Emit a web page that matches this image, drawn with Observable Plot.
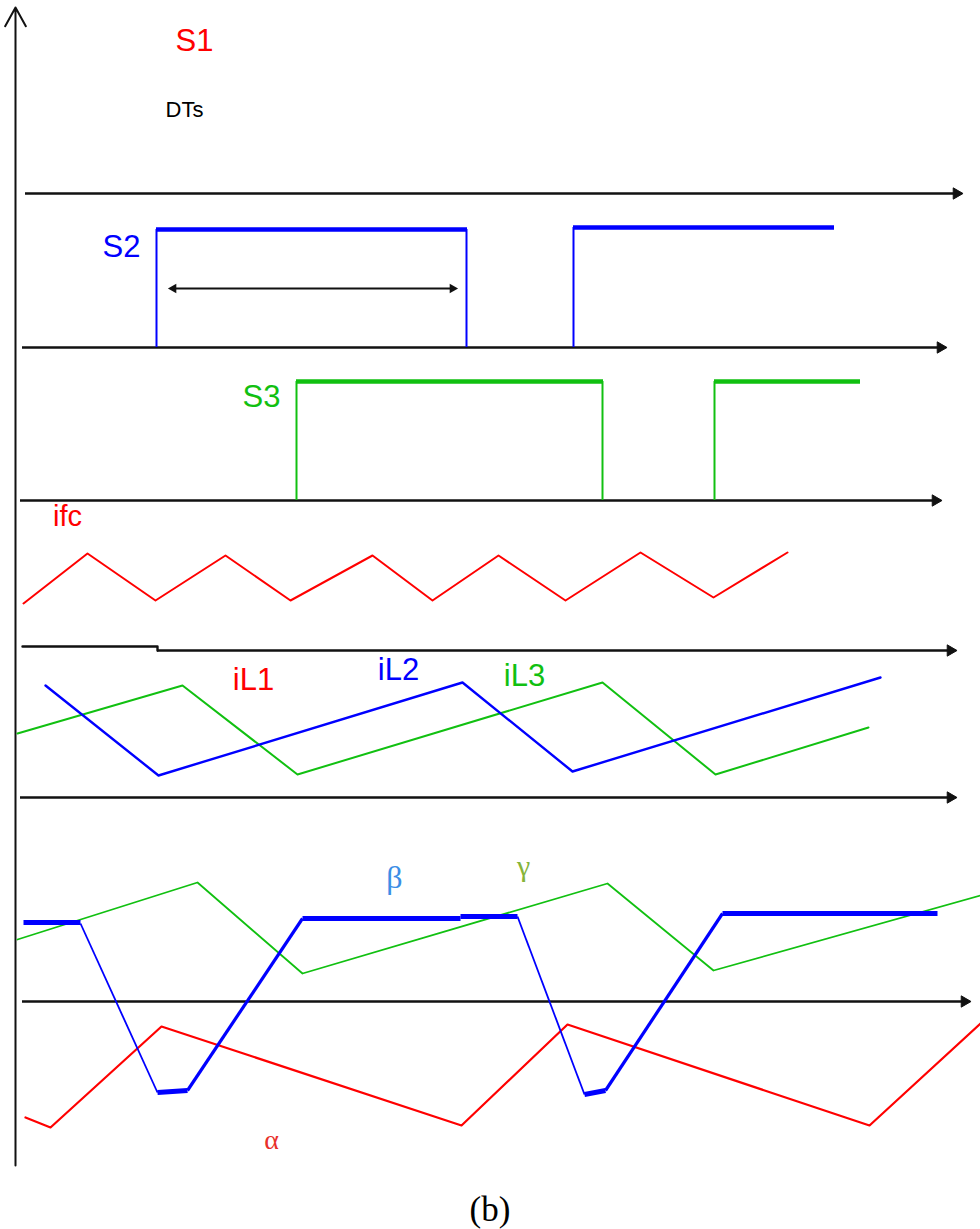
<!DOCTYPE html>
<html><head><meta charset="utf-8">
<script src="https://cdn.jsdelivr.net/npm/d3@7"></script>
<script src="https://cdn.jsdelivr.net/npm/@observablehq/plot@0.6"></script>
<style>
body{margin:0;background:#fff}
#cap{font-family:"Liberation Serif","Times New Roman",serif;font-size:35px;text-align:center;width:980px;height:44px;line-height:50px;color:#000;overflow:visible}
</style>
</head><body>
<div id="chart"></div>
<div id="cap">(b)</div>
<script>
// ---- data (time on x, level on y) ----
const timeAxes = [
  {x1: 25, x2: 962, y: 193},
  {x1: 22, x2: 946, y: 347},
  {x1: 20, x2: 941, y: 500},
  {x1: 157, x2: 956, y: 650},
  {x1: 20, x2: 956, y: 797},
  {x1: 22, x2: 970, y: 1001}
];
const axisStub = [[22, 646], [156, 646], [157, 650]];
const levelAxis = [{x: 15, y1: 1165, y2: 7}];

const s2Edges = [{x: 156, y1: 347, y2: 229}, {x: 466, y1: 347, y2: 229}, {x: 573, y1: 347, y2: 227}];
const s2Highs = [{x1: 156, x2: 467, y: 229}, {x1: 573, x2: 834, y: 227}];
const dtsSpan = [{x1: 168, x2: 457, y: 288}];

const s3Edges = [{x: 296, y1: 500, y2: 381}, {x: 602, y1: 500, y2: 381}, {x: 714, y1: 500, y2: 381}];
const s3Highs = [{x1: 296, x2: 603, y: 381}, {x1: 714, x2: 860, y: 381}];

const ifc = [[23,603],[87,553],[155,600],[225,555],[290,600],[372,555],[432,600],[498,555],[565,600],[640,552],[713,597],[787,552]];

const iL2 = [[45,685],[158,775],[462,682],[572,771],[880,677]];
const iL3 = [[17,733],[182,685],[297,774],[602,682],[715,774],[868,727]];

const gamma = [[17,939],[197,882],[302,973],[607,883],[713,970],[980,895]];
const alpha = [[25,1117],[50,1127],[161,1026],[461,1125],[567,1024],[869,1125],[980,1023]];
const betaFall = [{x1: 80, y1: 923, x2: 157, y2: 1092}, {x1: 517, y1: 916, x2: 584, y2: 1094}];
const betaRise = [{x1: 187, y1: 1090, x2: 302, y2: 918}, {x1: 605, y1: 1090, x2: 722, y2: 913}];
const betaFlat = [
  {x1: 23, y1: 922, x2: 80, y2: 922},
  {x1: 157, y1: 1092, x2: 187, y2: 1090},
  {x1: 302, y1: 918, x2: 460, y2: 918},
  {x1: 460, y1: 916, x2: 517, y2: 916},
  {x1: 584, y1: 1094, x2: 605, y2: 1090},
  {x1: 722, y1: 913, x2: 937, y2: 913}
];

const labels = [
  {t: "S1", x: 194, y: 41, c: "#ff0000", s: 31},
  {t: "DTs", x: 184, y: 109, c: "#000000", s: 22},
  {t: "S2", x: 121, y: 247, c: "#0000ff", s: 31},
  {t: "S3", x: 261, y: 397, c: "#11c011", s: 31},
  {t: "ifc", x: 67, y: 516, c: "#ff0000", s: 29},
  {t: "iL1", x: 253, y: 680, c: "#ff0000", s: 31},
  {t: "iL2", x: 398, y: 670, c: "#0000ff", s: 31},
  {t: "iL3", x: 524, y: 676, c: "#11c011", s: 31}
];
const greek = [
  {t: "β", x: 394, y: 877, c: "#3b8ee6", s: 32},
  {t: "γ", x: 523, y: 866, c: "#86b43a", s: 30},
  {t: "α", x: 271, y: 1140, c: "#e8302a", s: 28}
];

// ---- chart ----
const W = 980, H = 1185;
const BLUE = "#0000ff", RED = "#ff0000", GREEN = "#11c011";
const sans = "'Liberation Sans Narrow','Liberation Sans',Arial,sans-serif";
const serif = "'Liberation Serif','Times New Roman',serif";

const marks = [];
// axes
marks.push(Plot.ruleY(timeAxes, {x1: "x1", x2: d => d.x2 - 5, y: "y", stroke: "#111", strokeWidth: 2.4}));
marks.push(Plot.dot(timeAxes, {x: "x2", y: "y", symbol: "triangle", r: 4.2, rotate: 90, dx: -6, fill: "#111", stroke: "#111", strokeWidth: 1}));
marks.push(Plot.line(axisStub, {stroke: "#111", strokeWidth: 2.4, curve: "step-after"}));
marks.push(Plot.arrow(levelAxis, {x1: "x", x2: "x", y1: "y1", y2: "y2", stroke: "#111", strokeWidth: 2, headLength: 16, headAngle: 58}));
// S2
marks.push(Plot.ruleX(s2Edges, {x: "x", y1: "y1", y2: "y2", stroke: BLUE, strokeWidth: 2}));
marks.push(Plot.ruleY(s2Highs, {x1: "x1", x2: "x2", y: "y", stroke: BLUE, strokeWidth: 4.5}));
marks.push(Plot.ruleY(dtsSpan, {x1: d => d.x1 + 4, x2: d => d.x2 - 4, y: "y", stroke: "#111", strokeWidth: 2}));
marks.push(Plot.dot(dtsSpan, {x: "x2", y: "y", symbol: "triangle", r: 3.6, rotate: 90, dx: -5, fill: "#111"}));
marks.push(Plot.dot(dtsSpan, {x: "x1", y: "y", symbol: "triangle", r: 3.6, rotate: -90, dx: 5, fill: "#111"}));
// S3
marks.push(Plot.ruleX(s3Edges, {x: "x", y1: "y1", y2: "y2", stroke: GREEN, strokeWidth: 2}));
marks.push(Plot.ruleY(s3Highs, {x1: "x1", x2: "x2", y: "y", stroke: GREEN, strokeWidth: 4.5}));
// ifc
marks.push(Plot.line(ifc, {stroke: RED, strokeWidth: 2}));
// iL
marks.push(Plot.line(iL3, {stroke: GREEN, strokeWidth: 2}));
marks.push(Plot.line(iL2, {stroke: BLUE, strokeWidth: 2.4}));
// bottom
marks.push(Plot.line(gamma, {stroke: GREEN, strokeWidth: 1.8}));
marks.push(Plot.line(alpha, {stroke: RED, strokeWidth: 2.2}));
marks.push(Plot.link(betaFall, {x1: "x1", y1: "y1", x2: "x2", y2: "y2", stroke: BLUE, strokeWidth: 1.8}));
marks.push(Plot.link(betaRise, {x1: "x1", y1: "y1", x2: "x2", y2: "y2", stroke: BLUE, strokeWidth: 3.2}));
marks.push(Plot.link(betaFlat, {x1: "x1", y1: "y1", x2: "x2", y2: "y2", stroke: BLUE, strokeWidth: 5}));
// labels
for (const l of labels) {
  marks.push(Plot.text([l], {x: "x", y: "y", text: "t", fill: l.c, fontSize: l.s, fontFamily: sans, textAnchor: "middle", lineAnchor: "middle"}));
}
for (const g of greek) {
  marks.push(Plot.text([g], {x: "x", y: "y", text: "t", fill: g.c, fontSize: g.s, fontFamily: serif, textAnchor: "middle", lineAnchor: "middle"}));
}

const chart = Plot.plot({
  width: W, height: H,
  margin: 0,
  x: {domain: [0, W], range: [0, W], axis: null},
  y: {domain: [0, H], range: [0, H], axis: null},
  style: {background: "#fff", overflow: "visible"},
  marks
});
document.getElementById("chart").appendChild(chart);
</script>
</body></html>
